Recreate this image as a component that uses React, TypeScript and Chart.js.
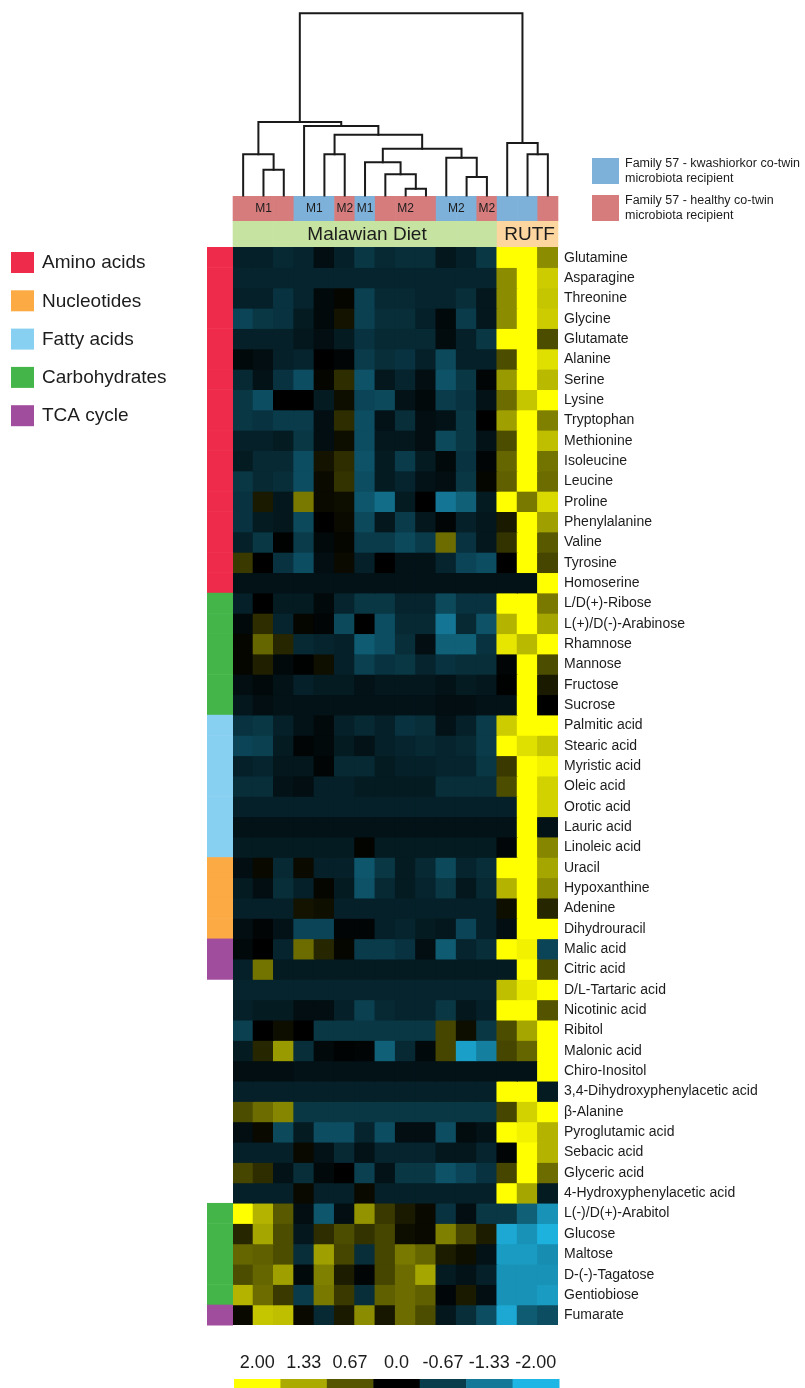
import React, { useEffect, useRef } from "react";
import { Chart, registerables } from "chart.js";
Chart.register(...registerables);

const FONT = '"Liberation Sans", Arial, Helvetica, sans-serif';

const metabolites = [
  "Glutamine", "Asparagine", "Threonine", "Glycine", "Glutamate", "Alanine", "Serine", "Lysine",
  "Tryptophan", "Methionine", "Isoleucine", "Leucine", "Proline", "Phenylalanine", "Valine", "Tyrosine",
  "Homoserine", "L/D(+)-Ribose", "L(+)/D(-)-Arabinose", "Rhamnose", "Mannose", "Fructose", "Sucrose",
  "Palmitic acid", "Stearic acid", "Myristic acid", "Oleic acid", "Orotic acid", "Lauric acid", "Linoleic acid",
  "Uracil", "Hypoxanthine", "Adenine", "Dihydrouracil", "Malic acid", "Citric acid", "D/L-Tartaric acid",
  "Nicotinic acid", "Ribitol", "Malonic acid", "Chiro-Inositol", "3,4-Dihydroxyphenylacetic acid",
  "\u03B2-Alanine", "Pyroglutamic acid", "Sebacic acid", "Glyceric acid", "4-Hydroxyphenylacetic acid",
  "L(-)/D(+)-Arabitol", "Glucose", "Maltose", "D-(-)-Tagatose", "Gentiobiose", "Fumarate",
];

// metabolite class per row ("" = none)
const metaboliteClass = [
  "AA", "AA", "AA", "AA", "AA", "AA", "AA", "AA", "AA", "AA", "AA", "AA", "AA", "AA", "AA", "AA", "AA",
  "CH", "CH", "CH", "CH", "CH", "CH",
  "FA", "FA", "FA", "FA", "FA", "FA", "FA",
  "NU", "NU", "NU", "NU",
  "TCA", "TCA",
  "", "", "", "", "", "", "", "", "", "", "",
  "CH", "CH", "CH", "CH", "CH",
  "TCA",
];

const classKeys = ["AA", "NU", "FA", "CH", "TCA"];
const classNames = ["Amino acids", "Nucleotides", "Fatty acids", "Carbohydrates", "TCA cycle"];
const classColors = ["#ef2b4b", "#fbaa44", "#88d0f1", "#44b649", "#a14d9d"];

const samples = ["S1", "S2", "S3", "S4", "S5", "S6", "S7", "S8", "S9", "S10", "S11", "S12", "S13", "S14", "S15", "S16"];
// K = kwashiorkor co-twin recipient, H = healthy co-twin recipient
const recipient = ["H", "H", "H", "K", "K", "H", "K", "H", "H", "H", "K", "K", "H", "K", "K", "H"];
const recipientNames = ["Family 57 - kwashiorkor co-twin|microbiota recipient", "Family 57 - healthy co-twin|microbiota recipient"];
const recipientColors = { K: "#7db1da", H: "#d67c7d" };
const sampleGroupLabel = ["M1", "M1", "M1", "M1", "M1", "M2", "M1", "M2", "M2", "M2", "M2", "M2", "M2", "", "", ""];
const sampleGroupSpan = [1, 1, 1, 2, 2, 3, 4, 5, 5, 5, 6, 6, 7, 8, 8, 9];
const diet = ["Malawian Diet", "Malawian Diet", "Malawian Diet", "Malawian Diet", "Malawian Diet", "Malawian Diet",
  "Malawian Diet", "Malawian Diet", "Malawian Diet", "Malawian Diet", "Malawian Diet", "Malawian Diet", "Malawian Diet",
  "RUTF", "RUTF", "RUTF"];
const dietColors = { "Malawian Diet": "#c6e3a1", RUTF: "#fdd69f" };

// hierarchical clustering of samples: [left, right, height]; ids >= 16 are earlier merges
const linkage = [
  [8, 9, 0.037],
  [11, 12, 0.101],
  [7, 16, 0.116],
  [1, 2, 0.141],
  [6, 18, 0.183],
  [10, 17, 0.207],
  [0, 19, 0.226],
  [4, 5, 0.226],
  [14, 15, 0.226],
  [20, 21, 0.257],
  [13, 24, 0.288],
  [23, 25, 0.334],
  [3, 27, 0.381],
  [22, 28, 0.403],
  [29, 26, 1.0],
];

const colorbarTicks = [2.0, 1.33, 0.67, 0.0, -0.67, -1.33, -2.0];
const colorbarLabels = ["2.00", "1.33", "0.67", "0.0", "-0.67", "-1.33", "-2.00"];

const heatValues = [
  [-0.35, -0.35, -0.45, -0.4, -0.15, -0.35, -0.6, -0.45, -0.5, -0.5, -0.25, -0.35, -0.6, 2, 2, 1.1],
  [-0.4, -0.4, -0.4, -0.4, -0.4, -0.4, -0.4, -0.4, -0.4, -0.4, -0.4, -0.4, -0.4, 1.1, 2, 1.6],
  [-0.35, -0.35, -0.55, -0.4, -0.1, 0.05, -0.7, -0.45, -0.45, -0.4, -0.4, -0.5, -0.25, 1.1, 2, 1.55],
  [-0.75, -0.6, -0.55, -0.3, -0.1, 0.15, -0.7, -0.5, -0.5, -0.35, -0.1, -0.65, -0.25, 1.1, 2, 1.6],
  [-0.35, -0.35, -0.35, -0.25, -0.15, -0.3, -0.55, -0.45, -0.45, -0.45, -0.12, -0.35, -0.6, 2, 2, 0.6],
  [-0.1, -0.15, -0.35, -0.4, 0, -0.05, -0.65, -0.5, -0.55, -0.35, -0.8, -0.35, -0.35, 0.6, 2, 1.75],
  [-0.45, -0.2, -0.55, -0.85, 0.05, 0.35, -0.9, -0.25, -0.4, -0.15, -0.9, -0.6, -0.05, 1.2, 2, 1.45],
  [-0.6, -0.85, 0, 0, -0.3, 0.1, -0.75, -0.8, -0.2, -0.1, -0.65, -0.55, -0.2, 0.85, 1.55, 2],
  [-0.6, -0.55, -0.65, -0.65, -0.15, 0.35, -0.85, -0.2, -0.5, -0.15, -0.2, -0.6, 0, 1.25, 2, 1.0],
  [-0.35, -0.35, -0.3, -0.6, -0.15, 0.1, -0.85, -0.25, -0.25, -0.15, -0.8, -0.6, -0.2, 0.6, 2, 1.5],
  [-0.3, -0.45, -0.45, -0.85, 0.15, 0.35, -0.9, -0.3, -0.65, -0.3, -0.1, -0.55, -0.05, 0.8, 2, 0.9],
  [-0.6, -0.45, -0.5, -0.85, 0.08, 0.4, -0.85, -0.3, -0.4, -0.2, -0.15, -0.6, 0.05, 0.75, 2, 0.85],
  [-0.55, 0.2, -0.25, 0.95, 0.08, 0.1, -0.95, -1.2, -0.3, 0, -1.3, -1.05, -0.3, 2, 0.95, 1.7],
  [-0.55, -0.3, -0.25, -0.8, 0, 0.08, -0.8, -0.25, -0.65, -0.25, -0.05, -0.35, -0.25, 0.2, 2, 1.25],
  [-0.35, -0.6, -0.02, -0.65, -0.1, 0.05, -0.65, -0.65, -0.8, -0.65, 0.85, -0.55, -0.25, 0.4, 2, 0.7],
  [0.45, 0, -0.55, -0.85, -0.15, 0.08, -0.35, 0, -0.2, -0.2, -0.4, -0.75, -0.85, 0, 2, 0.55],
  [-0.2, -0.2, -0.2, -0.2, -0.2, -0.2, -0.2, -0.2, -0.2, -0.2, -0.2, -0.2, -0.2, -0.2, -0.2, 2],
  [-0.35, 0, -0.3, -0.3, -0.1, -0.4, -0.6, -0.6, -0.4, -0.4, -0.8, -0.55, -0.55, 2, 2, 0.95],
  [-0.1, 0.35, -0.4, 0.05, -0.05, -0.8, 0, -0.85, -0.45, -0.45, -1.3, -0.45, -0.9, 1.4, 2, 1.3],
  [0.05, 0.8, 0.3, -0.45, -0.4, -0.35, -1.0, -0.85, -0.5, -0.15, -1.05, -1.05, -0.55, 1.8, 1.45, 2],
  [0.05, 0.25, -0.1, -0.02, 0.12, -0.35, -0.7, -0.55, -0.6, -0.4, -0.55, -0.5, -0.5, -0.05, 2, 0.6],
  [-0.15, -0.1, -0.2, -0.35, -0.3, -0.3, -0.2, -0.25, -0.25, -0.25, -0.2, -0.3, -0.25, -0.02, 2, 0.2],
  [-0.25, -0.15, -0.2, -0.2, -0.2, -0.2, -0.2, -0.2, -0.2, -0.2, -0.15, -0.15, -0.2, -0.2, 2, 0],
  [-0.55, -0.6, -0.35, -0.2, -0.1, -0.35, -0.45, -0.35, -0.55, -0.5, -0.2, -0.35, -0.65, 1.6, 2, 2],
  [-0.75, -0.7, -0.3, -0.05, -0.1, -0.3, -0.2, -0.35, -0.4, -0.45, -0.4, -0.45, -0.65, 2, 1.75, 1.55],
  [-0.35, -0.4, -0.25, -0.25, -0.05, -0.45, -0.45, -0.3, -0.35, -0.35, -0.4, -0.4, -0.6, 0.45, 2, 1.9],
  [-0.5, -0.5, -0.2, -0.15, -0.35, -0.35, -0.3, -0.3, -0.3, -0.3, -0.5, -0.5, -0.5, 0.6, 2, 1.65],
  [-0.35, -0.35, -0.35, -0.35, -0.35, -0.35, -0.35, -0.35, -0.35, -0.35, -0.35, -0.35, -0.35, -0.35, 2, 1.65],
  [-0.2, -0.2, -0.2, -0.2, -0.2, -0.2, -0.2, -0.2, -0.2, -0.2, -0.2, -0.2, -0.2, -0.2, 2, -0.2],
  [-0.3, -0.3, -0.3, -0.3, -0.3, -0.3, 0.02, -0.3, -0.3, -0.3, -0.3, -0.3, -0.3, -0.08, 2, 1.05],
  [-0.15, 0.07, -0.45, 0.08, -0.35, -0.35, -0.95, -0.6, -0.3, -0.45, -0.8, -0.4, -0.5, 2, 2, 1.3],
  [-0.3, -0.15, -0.5, -0.35, 0.05, -0.3, -0.9, -0.45, -0.3, -0.4, -0.6, -0.25, -0.45, 1.4, 2, 1.1],
  [-0.35, -0.35, -0.35, 0.15, 0.12, -0.35, -0.35, -0.35, -0.35, -0.35, -0.35, -0.35, -0.35, 0.12, 2, 0.3],
  [-0.15, -0.05, -0.2, -0.75, -0.75, -0.05, -0.05, -0.35, -0.4, -0.3, -0.25, -0.75, -0.35, -0.15, 2, 2],
  [-0.1, 0, -0.4, 0.85, 0.3, 0.05, -0.65, -0.65, -0.55, -0.15, -1.0, -0.4, -0.5, 2, 1.9, -0.75],
  [-0.35, 0.9, -0.3, -0.3, -0.3, -0.3, -0.3, -0.3, -0.3, -0.3, -0.3, -0.3, -0.3, -0.3, 2, 0.6],
  [-0.4, -0.4, -0.4, -0.4, -0.4, -0.4, -0.4, -0.4, -0.4, -0.4, -0.4, -0.4, -0.4, 1.5, 1.8, 2],
  [-0.35, -0.3, -0.3, -0.15, -0.15, -0.35, -0.7, -0.45, -0.4, -0.4, -0.6, -0.25, -0.35, 2, 2, 0.65],
  [-0.7, 0, 0.1, 0, -0.6, -0.6, -0.6, -0.6, -0.6, -0.6, 0.55, 0.1, -0.6, 0.6, 1.3, 2],
  [-0.3, 0.3, 1.2, -0.5, -0.1, -0.03, -0.05, -1.05, -0.45, -0.1, 0.55, -1.75, -1.4, 0.55, 0.8, 2],
  [-0.15, -0.15, -0.15, -0.2, -0.2, -0.2, -0.2, -0.2, -0.2, -0.2, -0.2, -0.2, -0.2, -0.2, -0.2, 2],
  [-0.35, -0.35, -0.35, -0.35, -0.35, -0.35, -0.35, -0.35, -0.35, -0.35, -0.35, -0.35, -0.35, 2, 2, -0.3],
  [0.6, 0.85, 1.05, -0.6, -0.6, -0.6, -0.6, -0.6, -0.6, -0.6, -0.6, -0.6, -0.6, 0.55, 1.65, 2],
  [-0.15, 0.07, -0.8, -0.3, -0.85, -0.85, -0.4, -0.85, -0.15, -0.15, -0.85, -0.12, -0.2, 2, 1.9, 1.4],
  [-0.35, -0.35, -0.35, 0.07, -0.2, -0.45, -0.2, -0.4, -0.4, -0.4, -0.25, -0.25, -0.4, -0.05, 2, 1.4],
  [0.55, 0.35, -0.2, -0.5, -0.1, 0, -0.7, -0.2, -0.6, -0.6, -0.9, -0.75, -0.55, 0.55, 2, 0.85],
  [-0.35, -0.35, -0.35, 0.07, -0.35, -0.35, 0.07, -0.35, -0.35, -0.35, -0.35, -0.35, -0.35, 2, 1.3, -0.3],
  [2, 1.4, 0.7, -0.15, -0.95, -0.15, 1.15, 0.45, 0.2, 0.07, -0.55, -0.15, -0.6, -0.6, -1.05, -1.6],
  [0.3, 1.3, 0.6, -0.25, 0.35, 0.6, 0.4, 0.55, 0.1, 0.07, 1.0, 0.55, 0.22, -1.85, -1.6, -1.95],
  [0.8, 0.75, 0.6, -0.5, 1.25, 0.55, -0.5, 0.55, 0.95, 0.8, 0.22, 0.12, -0.2, -1.7, -1.7, -1.55],
  [0.6, 0.8, 1.25, -0.1, 1.0, 0.22, -0.05, 0.55, 0.85, 1.3, -0.3, -0.2, -0.35, -1.6, -1.6, -1.6],
  [1.4, 0.85, 0.45, -0.65, 0.95, 0.45, -0.5, 0.75, 0.85, 0.75, -0.08, 0.2, -0.15, -1.6, -1.6, -1.7],
  [0.07, 1.55, 1.5, 0.07, -0.45, 0.2, 1.1, 0.18, 0.85, 0.6, -0.25, -0.5, -0.85, -1.85, -1.0, -0.85],
];

function valueColor(v: number): string {
  const t = Math.min(1, Math.abs(v) / 2);
  if (v >= 0) {
    const c = Math.round(255 * t);
    return `rgb(${c},${c},0)`;
  }
  return `rgb(${Math.round(30 * t)},${Math.round(182 * t)},${Math.round(228 * t)})`;
}

const TEXT = "#1c1c1c";

const decorPlugin = {
  id: "heatDecor",
  afterDraw(chart: any) {
    const ctx = chart.ctx as CanvasRenderingContext2D;
    const xs = chart.scales.x;
    const ys = chart.scales.y;
    const area = chart.chartArea;
    const n = samples.length;
    const colW = (area.right - area.left) / n;
    const colCenter = (i: number) => xs.getPixelForValue(i);
    const colLeft = (i: number) => colCenter(i) - colW / 2;
    const rowTop = (r: number) => ys.getPixelForValue(r);

    ctx.save();

    // row labels
    ctx.fillStyle = TEXT;
    ctx.font = `14px ${FONT}`;
    ctx.textAlign = "left";
    ctx.textBaseline = "middle";
    metabolites.forEach((m, r) => {
      ctx.fillText(m, area.right + 6, (rowTop(r) + rowTop(r + 1)) / 2 + 0.5);
    });

    // class strip
    metaboliteClass.forEach((c, r) => {
      const k = classKeys.indexOf(c);
      if (k < 0) return;
      ctx.fillStyle = classColors[k];
      ctx.fillRect(area.left - 26, rowTop(r), 26, rowTop(r + 1) - rowTop(r) + 0.5);
    });

    // class legend
    classNames.forEach((name, k) => {
      const top = 252 + k * 38.3;
      ctx.fillStyle = classColors[k];
      ctx.fillRect(11, top, 23, 21);
      ctx.fillStyle = TEXT;
      ctx.font = `19px ${FONT}`;
      ctx.textAlign = "left";
      ctx.textBaseline = "middle";
      ctx.fillText(name, 42, top + 11);
    });

    // annotation rows
    const annTop = area.top - 51;
    const dietTop = area.top - 26;
    for (let i = 0; i < n; i++) {
      ctx.fillStyle = (recipientColors as any)[recipient[i]];
      ctx.fillRect(colLeft(i) - 0.3, annTop, colW + 0.6, 25);
      ctx.fillStyle = (dietColors as any)[diet[i]];
      ctx.fillRect(colLeft(i) - 0.3, dietTop, colW + 0.6, 26);
    }
    // group labels
    ctx.fillStyle = TEXT;
    ctx.font = `12px ${FONT}`;
    ctx.textAlign = "center";
    ctx.textBaseline = "middle";
    let s = 0;
    while (s < n) {
      let e = s;
      while (e + 1 < n && sampleGroupSpan[e + 1] === sampleGroupSpan[s]) e++;
      if (sampleGroupLabel[s]) {
        ctx.fillText(sampleGroupLabel[s], (colLeft(s) + colLeft(e) + colW) / 2, annTop + 13);
      }
      s = e + 1;
    }
    // diet labels
    ctx.font = `19px ${FONT}`;
    s = 0;
    while (s < n) {
      let e = s;
      while (e + 1 < n && diet[e + 1] === diet[s]) e++;
      ctx.fillText(diet[s], (colLeft(s) + colLeft(e) + colW) / 2 + 2, dietTop + 13.5);
      s = e + 1;
    }

    // dendrogram
    const base = annTop - 0.5;
    const topY = 13.3;
    const hY = (h: number) => base - h * (base - topY);
    const nodeX: number[] = [];
    const nodeY: number[] = [];
    for (let i = 0; i < n; i++) {
      nodeX[i] = colCenter(i);
      nodeY[i] = base;
    }
    ctx.strokeStyle = "#1a1a1a";
    ctx.lineWidth = 2;
    ctx.lineCap = "square";
    linkage.forEach(([a, b, h], k) => {
      const id = n + k;
      const y = hY(h);
      ctx.beginPath();
      ctx.moveTo(nodeX[a], nodeY[a]);
      ctx.lineTo(nodeX[a], y);
      ctx.lineTo(nodeX[b], y);
      ctx.lineTo(nodeX[b], nodeY[b]);
      ctx.stroke();
      nodeX[id] = (nodeX[a] + nodeX[b]) / 2;
      nodeY[id] = y;
    });

    // recipient legend
    const keys = ["K", "H"];
    keys.forEach((k, j) => {
      const top = 158 + j * 37;
      ctx.fillStyle = (recipientColors as any)[k];
      ctx.fillRect(592, top, 27, 26);
      ctx.fillStyle = TEXT;
      ctx.font = `12.5px ${FONT}`;
      ctx.textAlign = "left";
      ctx.textBaseline = "middle";
      const lines = recipientNames[j].split("|");
      lines.forEach((ln, li) => ctx.fillText(ln, 625, top + 5.5 + li * 15));
    });

    // color bar
    const segW = (area.right - area.left) / colorbarTicks.length;
    const barTop = area.bottom + 54;
    colorbarTicks.forEach((t, k) => {
      ctx.fillStyle = valueColor(t);
      ctx.fillRect(area.left + 1 + k * segW, barTop, segW + 0.5, 12);
      ctx.fillStyle = TEXT;
      ctx.font = `18px ${FONT}`;
      ctx.textAlign = "center";
      ctx.textBaseline = "middle";
      ctx.fillText(colorbarLabels[k], area.left + 1 + (k + 0.5) * segW, area.bottom + 38);
    });

    ctx.restore();
  },
};

export default function App() {
  const ref = useRef<HTMLCanvasElement | null>(null);
  useEffect(() => {
    document.body.style.margin = "0";
    if (!ref.current) return;
    const datasets = heatValues.map((row, r) => ({
      label: metabolites[r],
      data: row.map(() => 1),
      backgroundColor: row.map(valueColor),
      borderWidth: 0,
      inflateAmount: 0.6,
      barPercentage: 1,
      categoryPercentage: 1,
      stack: "cells",
    }));
    const chart = new Chart(ref.current, {
      type: "bar",
      data: { labels: samples, datasets },
      options: {
        responsive: false,
        animation: false,
        events: [],
        layout: { padding: { left: 233, right: 247, top: 247, bottom: 63 } },
        plugins: { legend: { display: false }, tooltip: { enabled: false } },
        scales: {
          x: { display: false, stacked: true, grid: { display: false } },
          y: { display: false, stacked: true, min: 0, max: metabolites.length, reverse: true, grid: { display: false } },
        },
      } as any,
      plugins: [decorPlugin],
    });
    return () => chart.destroy();
  }, []);
  return (
    <div style={{ width: 805, height: 1388, background: "#fff" }}>
      <canvas ref={ref} width={805} height={1388} style={{ display: "block" }} />
    </div>
  );
}
